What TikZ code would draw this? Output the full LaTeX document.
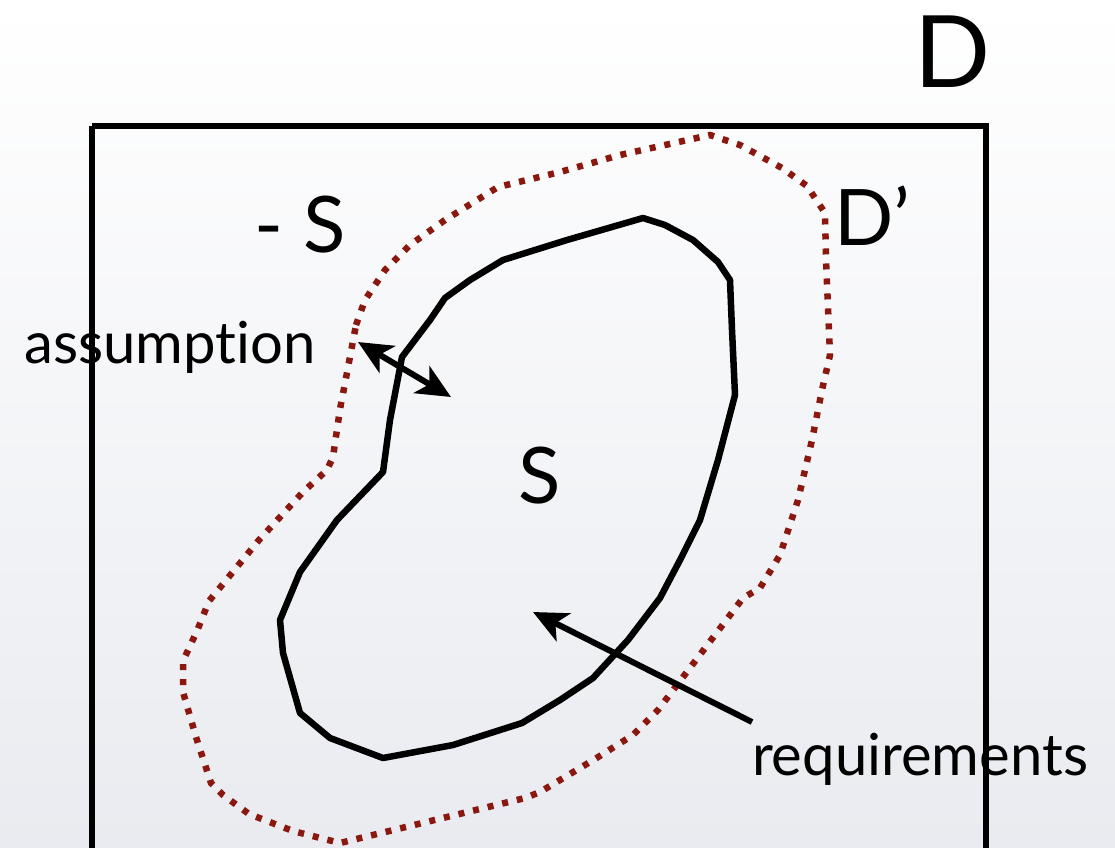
\documentclass[tikz,border=0pt]{standalone}
\usepackage{fontspec}
\setmainfont{Lato}[Ligatures=NoCommon]
\usetikzlibrary{arrows.meta}

\definecolor{dred}{RGB}{138,24,14}
\definecolor{bgbot}{RGB}{233,235,240}

\begin{document}
\begin{tikzpicture}[
  x=1pt, y=-1pt,
  frame/.style={draw=black, line width=6pt},
  sline/.style={draw=black, line width=6.5pt, line join=round},
  dotline/.style={draw=dred, line width=6.5pt, line cap=butt,
                  dash pattern=on 6pt off 9pt},
  arr/.style={line width=6pt, draw=black,
              -{Stealth[length=34pt, width=31pt, inset=9pt]}},
  biarr/.style={arr, {Stealth[length=34pt, width=31pt, inset=9pt]}-{Stealth[length=34pt, width=31pt, inset=9pt]}},
  big/.style={inner sep=0pt, anchor=base, font=\fontsize{78}{80}\selectfont},
  lab/.style={inner sep=0pt, anchor=base, font=\fontsize{58}{60}\selectfont}
]

% ---------------- page ----------------
\useasboundingbox (0,0) rectangle (1115,847);
\shade[top color=white, bottom color=bgbot] (0,0) rectangle (1115,847);
\clip (0,0) rectangle (1115,847);

% ---------------- domain D ----------------
\draw[frame] (92,126) -- (986,126) -- (986,880) (92,126) -- (92,880);

% ---------------- D' (dotted) ----------------
\draw[dotline] (356,325) -- (365,300) -- (385,270) -- (410,245) -- (445,220)
  -- (498,187) -- (560,172) -- (620,155) -- (710,135) -- (740,145)
  -- (782,168) -- (807,186) -- (825,213) -- (826,260) -- (830,355)
  -- (822,390) -- (812,440) -- (798,500) -- (780,555) -- (760,588)
  -- (743,598) -- (658,710) -- (633,735) -- (595,759) -- (540,792)
  -- (525,798) -- (340,843) -- (293,831) -- (249,814) -- (223,795)
  -- (211,783) -- (196,737) -- (183,692) -- (183,661) -- (197,631)
  -- (209,601) -- (259,540) -- (303,492) -- (327,470) -- (333,457)
  -- (340,409) -- (346,378) -- cycle;

% ---------------- S (solid) ----------------
\draw[sline] (643,218) -- (665,225) -- (693,240) -- (718,262) -- (730,280)
  -- (732,330) -- (735,395) -- (718,460) -- (700,520) -- (680,560)
  -- (660,598) -- (628,640) -- (593,678) -- (560,700) -- (522,723)
  -- (453,745) -- (383,758) -- (330,738) -- (300,713) -- (283,653)
  -- (280,620) -- (300,572) -- (337,520) -- (383,472) -- (390,420)
  -- (402,357) -- (430,320) -- (445,298) -- (470,280) -- (503,260)
  -- (567,240) -- cycle;

% ---------------- labels ----------------
\node[big, font=\fontsize{100}{100}\selectfont] (dlab) at (953,87) {D};
\node[big] (dplab) at (872,245) {D’};
\node[big] (notslab) at (300,252) {- S};
\node[big] (slab) at (540,503) {S};
\node[lab] (asmlab) at (170,363) {assumption};
\node[lab] (reqlab) at (920,775) {requirements};

% ---------------- arrows ----------------
\coordinate (asmA) at (358,342);
\coordinate (asmB) at (451,397);
\coordinate (reqtail) at (752,722);
\coordinate (reqtip) at (533,612);
\draw[biarr] (asmA) -- (asmB);
\draw[arr] (reqtail) -- (reqtip);

\end{tikzpicture}
\end{document}
